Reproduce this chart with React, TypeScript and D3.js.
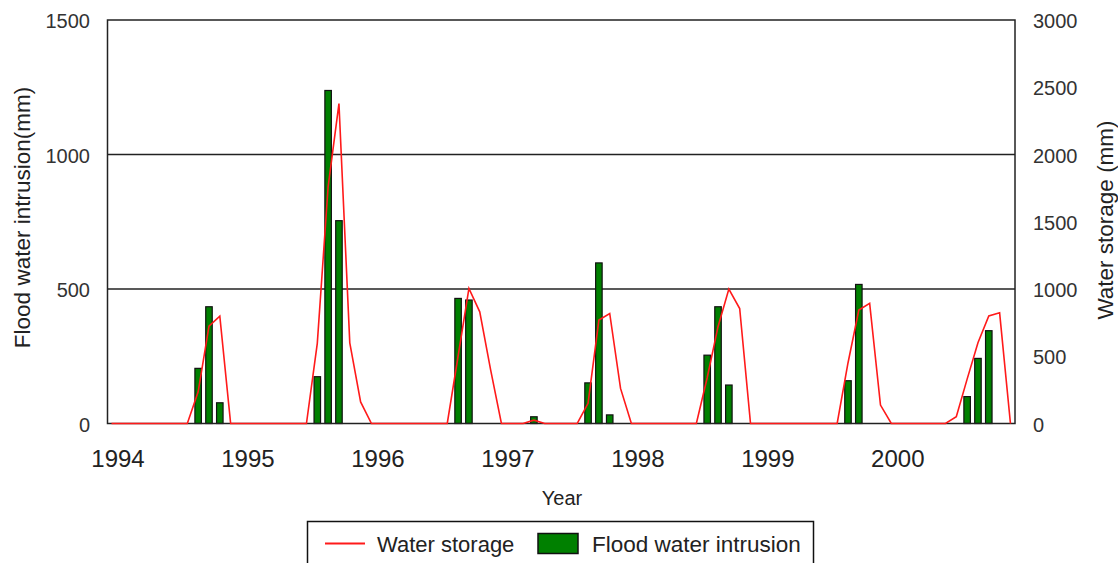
import * as d3 from "d3";
import { useEffect, useRef } from "react";

// monthly values, Jan 1994 .. Dec 2000 (one row per year)
const waterStorage = [
  0, 0, 0, 0, 0, 0, 0, 0, 236, 724, 798, 0,
  0, 0, 0, 0, 0, 0, 0, 596, 1760, 2378, 600, 160,
  0, 0, 0, 0, 0, 0, 0, 0, 500, 1004, 830, 400,
  0, 0, 0, 25, 0, 0, 0, 0, 150, 769, 818, 261,
  0, 0, 0, 0, 0, 0, 0, 340, 720, 1000, 855, 0,
  0, 0, 0, 0, 0, 0, 0, 0, 450, 843, 893, 137,
  0, 0, 0, 0, 0, 0, 50, 330, 600, 800, 823, 0,
];

const floodIntrusion = [
  0, 0, 0, 0, 0, 0, 0, 0, 205, 434, 77, 0,
  0, 0, 0, 0, 0, 0, 0, 174, 1238, 754, 0, 0,
  0, 0, 0, 0, 0, 0, 0, 0, 465, 459, 0, 0,
  0, 0, 0, 25, 0, 0, 0, 0, 151, 597, 32, 0,
  0, 0, 0, 0, 0, 0, 0, 254, 434, 143, 0, 0,
  0, 0, 0, 0, 0, 0, 0, 0, 159, 517, 0, 0,
  0, 0, 0, 0, 0, 0, 0, 100, 242, 345, 0, 0,
];

const yearLabels = ["1994", "1995", "1996", "1997", "1998", "1999", "2000"];
const leftTicks = [0, 500, 1000, 1500];
const rightTicks = [0, 500, 1000, 1500, 2000, 2500, 3000];

const App = () => {
  const ref = useRef<SVGSVGElement>(null);

  useEffect(() => {
    const width = 1118;
    const height = 563;
    const left = 107.5;
    const right = 1015;
    const top = 20;
    const bottom = 423.5;
    const font = "'Liberation Sans', Arial, sans-serif";

    const svg = d3
      .select(ref.current)
      .attr("width", width)
      .attr("height", height)
      .html("");

    svg.append("rect").attr("width", width).attr("height", height).attr("fill", "#fff");

    const x = d3.scaleLinear().domain([-0.37, 83.42]).range([left, right]);
    const yL = d3.scaleLinear().domain([0, 1500]).range([bottom, top]);
    const yR = d3.scaleLinear().domain([0, 3000]).range([bottom, top]);

    // grid lines
    svg
      .selectAll("line.grid")
      .data(leftTicks.filter((t) => t > 0 && t < 1500))
      .enter()
      .append("line")
      .attr("x1", left)
      .attr("x2", right)
      .attr("y1", (d) => yL(d))
      .attr("y2", (d) => yL(d))
      .attr("stroke", "#222")
      .attr("stroke-width", 1.5);

    // bars
    const barW = 6.5;
    svg
      .append("g")
      .selectAll("rect")
      .data(floodIntrusion.map((v, i) => ({ v, i })).filter((d) => d.v > 0))
      .enter()
      .append("rect")
      .attr("x", (d) => x(d.i) - barW / 2)
      .attr("y", (d) => yL(d.v))
      .attr("width", barW)
      .attr("height", (d) => bottom - yL(d.v))
      .attr("fill", "#008000")
      .attr("stroke", "#111")
      .attr("stroke-width", 1.2);

    // plot frame
    svg
      .append("rect")
      .attr("x", left)
      .attr("y", top)
      .attr("width", right - left)
      .attr("height", bottom - top)
      .attr("fill", "none")
      .attr("stroke", "#222")
      .attr("stroke-width", 1.5);

    // storage line
    const line = d3
      .line<number>()
      .x((_, i) => x(i))
      .y((d) => yR(d));

    svg
      .append("path")
      .datum(waterStorage)
      .attr("d", line)
      .attr("fill", "none")
      .attr("stroke", "#ff1a1a")
      .attr("stroke-width", 1.6);

    // left ticks
    svg
      .selectAll("text.lt")
      .data(leftTicks)
      .enter()
      .append("text")
      .attr("x", 90)
      .attr("y", (d) => yL(d) + 8)
      .attr("text-anchor", "end")
      .style("font-family", font)
      .style("font-size", "20px")
      .style("fill", "#333")
      .text((d) => d);

    // right ticks
    svg
      .selectAll("text.rt")
      .data(rightTicks)
      .enter()
      .append("text")
      .attr("x", 1033)
      .attr("y", (d) => yR(d) + 8)
      .attr("text-anchor", "start")
      .style("font-family", font)
      .style("font-size", "20px")
      .style("fill", "#333")
      .text((d) => d);

    // year labels
    svg
      .selectAll("text.yr")
      .data(yearLabels)
      .enter()
      .append("text")
      .attr("x", (_, i) => x(i * 12 + 0.6))
      .attr("y", 467)
      .attr("text-anchor", "middle")
      .style("font-family", font)
      .style("font-size", "24px")
      .style("fill", "#222")
      .text((d) => d);

    svg
      .append("text")
      .attr("x", 562)
      .attr("y", 505)
      .attr("text-anchor", "middle")
      .style("font-family", font)
      .style("font-size", "20px")
      .style("fill", "#222")
      .text("Year");

    svg
      .append("text")
      .attr("transform", "translate(22, 217.5) rotate(-90)")
      .attr("text-anchor", "middle")
      .attr("dominant-baseline", "central")
      .style("font-family", font)
      .style("font-size", "22.5px")
      .style("fill", "#222")
      .text("Flood water intrusion(mm)");

    svg
      .append("text")
      .attr("transform", "translate(1105, 220) rotate(-90)")
      .attr("text-anchor", "middle")
      .attr("dominant-baseline", "central")
      .style("font-family", font)
      .style("font-size", "22.5px")
      .style("fill", "#222")
      .text("Water storage (mm)");

    // legend
    const lg = svg.append("g");
    lg.append("rect")
      .attr("x", 307.5)
      .attr("y", 521.5)
      .attr("width", 506)
      .attr("height", 70)
      .attr("fill", "#fff")
      .attr("stroke", "#111")
      .attr("stroke-width", 1.5);
    lg.append("line")
      .attr("x1", 325)
      .attr("x2", 365)
      .attr("y1", 543.5)
      .attr("y2", 543.5)
      .attr("stroke", "#ff1a1a")
      .attr("stroke-width", 2);
    lg.append("text")
      .attr("x", 377)
      .attr("y", 552)
      .style("font-family", font)
      .style("font-size", "22px")
      .style("fill", "#222")
      .text("Water storage");
    lg.append("rect")
      .attr("x", 538)
      .attr("y", 533.5)
      .attr("width", 40)
      .attr("height", 20)
      .attr("fill", "#008000")
      .attr("stroke", "#111")
      .attr("stroke-width", 1.5);
    lg.append("text")
      .attr("x", 592)
      .attr("y", 552)
      .style("font-family", font)
      .style("font-size", "22.5px")
      .style("fill", "#222")
      .text("Flood water intrusion");
  }, []);

  return (
    <div style={{ position: "absolute", left: 0, top: 0, width: 1118, height: 563, overflow: "hidden" }}>
      <svg ref={ref}></svg>
    </div>
  );
};

export default App;
